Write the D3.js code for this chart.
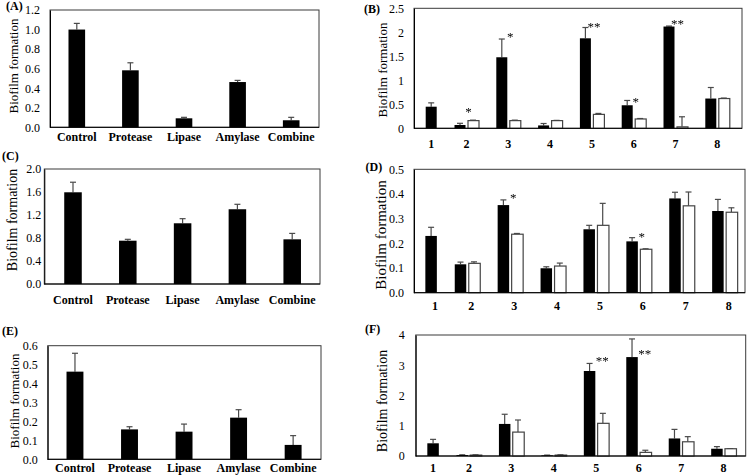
<!DOCTYPE html>
<html><head><meta charset="utf-8">
<script src="https://cdn.jsdelivr.net/npm/d3@7/dist/d3.min.js"></script>
<style>
body{margin:0;background:#fff}
svg{display:block}
text{font-family:"Liberation Serif","Times New Roman",serif;fill:#000}
</style>
</head><body>
<svg id="chart" width="750" height="475"></svg>
<script>
// ---------------- DATA ----------------
const enzymeCats = ["Control", "Protease", "Lipase", "Amylase", "Combine"];
const valuesA = [1.00, 0.583, 0.092, 0.463, 0.072];
const errorsA = [0.063, 0.077, 0.010, 0.017, 0.030];
const valuesC = [1.595, 0.753, 1.056, 1.300, 0.777];
const errorsC = [0.175, 0.024, 0.080, 0.086, 0.103];
const valuesE = [0.463, 0.158, 0.146, 0.220, 0.076];
const errorsE = [0.097, 0.014, 0.040, 0.042, 0.049];
const ticksA = ["0.0", "0.2", "0.4", "0.6", "0.8", "1.0", "1.2"];
const ticksC = ["0.0", "0.4", "0.8", "1.2", "1.6", "2.0"];
const ticksE = ["0.0", "0.1", "0.2", "0.3", "0.4", "0.5", "0.6"];

const strainCats = ["1", "2", "3", "4", "5", "6", "7", "8"];
const blackB = [0.45, 0.069, 1.48, 0.06, 1.875, 0.48, 2.12, 0.62];
const blackErrB = [0.08, 0.035, 0.38, 0.04, 0.225, 0.10, 0.01, 0.23];
const whiteB = [null, 0.16, 0.16, 0.16, 0.29, 0.194, 0.03, 0.62];
const whiteErrB = [null, 0.01, 0.01, 0.005, 0.02, 0.01, 0.21, 0.01];
const ticksB = ["0", "0.5", "1", "1.5", "2", "2.5"];
const starsB = [["2", "*", 0.38], ["3", "*", 1.94], ["5", "**", 2.15], ["6", "*", 0.60], ["7", "**", 2.21]];

const blackD = [0.23, 0.115, 0.355, 0.099, 0.257, 0.208, 0.382, 0.331];
const blackErrD = [0.035, 0.009, 0.021, 0.006, 0.016, 0.015, 0.025, 0.047];
const whiteD = [null, 0.119, 0.237, 0.108, 0.273, 0.176, 0.352, 0.326];
const whiteErrD = [null, 0.006, 0.003, 0.012, 0.089, 0.002, 0.056, 0.018];
const ticksD = ["0.0", "0.1", "0.2", "0.3", "0.4", "0.5"];
const starsD = [["3", "*", 0.393], ["6", "*", 0.234]];

const blackF = [0.42, 0.03, 1.06, 0.02, 2.81, 3.27, 0.58, 0.24];
const blackErrF = [0.13, 0.01, 0.32, 0.01, 0.25, 0.60, 0.30, 0.07];
const whiteF = [null, 0.03, 0.79, 0.03, 1.08, 0.12, 0.47, 0.24];
const whiteErrF = [null, 0.01, 0.40, 0.01, 0.33, 0.07, 0.17, 0.005];
const ticksF = ["0", "1", "2", "3", "4"];
const starsF = [["5", "**", 3.20], ["6", "**", 3.45]];

const yTitle = "Biofilm formation";

// ---------------- LAYOUT ----------------
const panels = [
  {tag: "(A)", tagPos: [6, 10], box: {l: 50, r: 319, t: 10, b: 127.3}, ticks: ticksA, tickGap: 10,
   title: {x: 13, y: 66, size: 13}, catY: 141.3, band: [50, 318], pad: 0.69,
   cats: enzymeCats, values: valuesA, errors: errorsA},
  {tag: "(C)", tagPos: [2, 159.5], box: {l: 44.3, r: 320, t: 169, b: 284}, ticks: ticksC, tickGap: 3,
   title: {x: 12, y: 220, size: 14}, catY: 303.6, band: [45.6, 319.6], pad: 0.68,
   cats: enzymeCats, values: valuesC, errors: errorsC},
  {tag: "(E)", tagPos: [2, 334.5], box: {l: 47.7, r: 321, t: 345.7, b: 459.3}, ticks: ticksE, tickGap: 10,
   title: {x: 14, y: 401, size: 13}, catY: 472, band: [47.7, 320.4], pad: 0.69,
   cats: enzymeCats, values: valuesE, errors: errorsE},
  {tag: "(B)", tagPos: [364, 12.5], box: {l: 414, r: 742, t: 8.3, b: 128.3}, ticks: ticksB, tickGap: 10,
   title: {x: 382, y: 70, size: 13}, catY: 148.3, band: [403.8, 738.2], barW: 11, gap: 2, labelDx: 0, starDx: 2,
   cats: strainCats, black: blackB, blackErr: blackErrB, white: whiteB, whiteErr: whiteErrB, stars: starsB},
  {tag: "(D)", tagPos: [365.6, 171], box: {l: 414, r: 745, t: 169.3, b: 292.7}, ticks: ticksD, tickGap: 10,
   title: {x: 381, y: 235, size: 15}, catY: 310.3, band: [402.9, 746.1], barW: 11.5, gap: 2, labelDx: 4, starDx: 3,
   cats: strainCats, black: blackD, blackErr: blackErrD, white: whiteD, whiteErr: whiteErrD, stars: starsD},
  {tag: "(F)", tagPos: [365, 332.5], box: {l: 415.7, r: 745.7, t: 335, b: 456}, ticks: ticksF, tickGap: 11,
   title: {x: 382, y: 401, size: 14}, catY: 471.6, band: [405.2, 744.8], barW: 11.5, gap: 1.8, labelDx: 0, starDx: 6,
   cats: strainCats, black: blackF, blackErr: blackErrF, white: whiteF, whiteErr: whiteErrF, stars: starsF}
];

const svg = d3.select("#chart");
// grayscale filter so that the small asterisks are not colour-fringed
svg.append("defs").append("filter").attr("id", "gray")
  .attr("x", "-20%").attr("y", "-20%").attr("width", "140%").attr("height", "140%")
  .append("feColorMatrix").attr("type", "saturate").attr("values", 0);

const ERR = "#4a4a4a";
const CAP = 3;

function drawErr(g, cx, y, v, e) {
  if (v == null || e == null) return;
  g.append("line").attr("x1", cx).attr("x2", cx).attr("y1", y(v)).attr("y2", y(v + e))
    .attr("stroke", ERR).attr("stroke-width", 1.2);
  g.append("line").attr("x1", cx - CAP).attr("x2", cx + CAP).attr("y1", y(v + e)).attr("y2", y(v + e))
    .attr("stroke", ERR).attr("stroke-width", 1.2);
}

panels.forEach(P => {
  const g = svg.append("g");
  const B = P.box;
  const ticksNum = P.ticks.map(Number);
  const y = d3.scaleLinear().domain([0, d3.max(ticksNum)]).range([B.b, B.t]);

  // frame
  g.append("rect").attr("x", B.l).attr("y", B.t).attr("width", B.r - B.l).attr("height", B.b - B.t)
    .attr("fill", "none").attr("stroke", "#3a3a3a").attr("stroke-width", 1);

  // y axis
  const ax = d3.axisLeft(y).tickValues(ticksNum).tickFormat((d, i) => P.ticks[i]).tickSize(0).tickPadding(P.tickGap);
  const ag = g.append("g").attr("transform", `translate(${B.l},0)`).call(ax);
  ag.attr("font-family", null);
  ag.select(".domain").attr("stroke", "#000").attr("stroke-width", 1);
  ag.selectAll("text").attr("font-size", 12).attr("fill", "#000");

  // y title
  g.append("text").attr("transform", `translate(${P.title.x},${P.title.y}) rotate(-90)`)
    .attr("text-anchor", "middle").attr("dominant-baseline", "central")
    .attr("font-size", P.title.size).text(yTitle);

  // tag
  g.append("text").attr("x", P.tagPos[0]).attr("y", P.tagPos[1]).attr("font-size", 12)
    .attr("font-weight", "bold").text(P.tag);

  if (P.values) {
    const x = d3.scaleBand().domain(P.cats).range(P.band).paddingInner(P.pad).paddingOuter(P.pad / 2);
    P.cats.forEach((c, i) => {
      const cx = x(c) + x.bandwidth() / 2;
      drawErr(g, cx, y, P.values[i], P.errors[i]);
      g.append("rect").attr("x", x(c)).attr("y", y(P.values[i])).attr("width", x.bandwidth())
        .attr("height", y(0) - y(P.values[i])).attr("fill", "#000");
      g.append("text").attr("x", cx).attr("y", P.catY).attr("text-anchor", "middle")
        .attr("font-size", 12).attr("font-weight", "bold").text(c);
    });
  } else {
    const x = d3.scaleBand().domain(P.cats).range(P.band);
    const half = P.barW + P.gap / 2;
    const sub = d3.scaleBand().domain(["black", "white"]).range([-half, half]).paddingInner(P.gap / (P.barW + P.gap));
    P.cats.forEach((c, i) => {
      const center = x(c) + x.bandwidth() / 2;
      const hasWhite = P.white[i] != null;
      // a lone bar sits in the second slot, as in the original
      const bx = center + (hasWhite ? sub("black") : sub("white"));
      const bw = sub.bandwidth();
      drawErr(g, bx + bw / 2, y, P.black[i], P.blackErr[i]);
      g.append("rect").attr("x", bx).attr("y", y(P.black[i])).attr("width", bw)
        .attr("height", y(0) - y(P.black[i])).attr("fill", "#000");
      let labelX = center;
      if (hasWhite) {
        const wx = center + sub("white");
        drawErr(g, wx + bw / 2, y, P.white[i], P.whiteErr[i]);
        g.append("rect").attr("x", wx + 0.5).attr("y", y(P.white[i])).attr("width", bw)
          .attr("height", y(0) - y(P.white[i])).attr("fill", "#fff").attr("stroke", "#444").attr("stroke-width", 1.2);
      } else {
        labelX = bx + bw / 2;
      }
      g.append("text").attr("x", labelX + P.labelDx).attr("y", P.catY).attr("text-anchor", "middle")
        .attr("font-size", 12).attr("font-weight", "bold").text(c);
    });
    const sg = g.append("g").attr("filter", "url(#gray)");
    P.stars.forEach(s => {
      const cx = x(s[0]) + x.bandwidth() / 2 + P.starDx;
      sg.append("text").attr("x", cx).attr("y", y(s[2]) + 6).attr("text-anchor", "middle")
        .attr("font-size", 13).attr("fill", "#111").text(s[1]);
    });
  }
  // bottom axis line on top of bars
  g.append("line").attr("x1", B.l).attr("x2", B.r).attr("y1", B.b).attr("y2", B.b).attr("stroke", "#000").attr("stroke-width", 1);
});
</script>
</body></html>
